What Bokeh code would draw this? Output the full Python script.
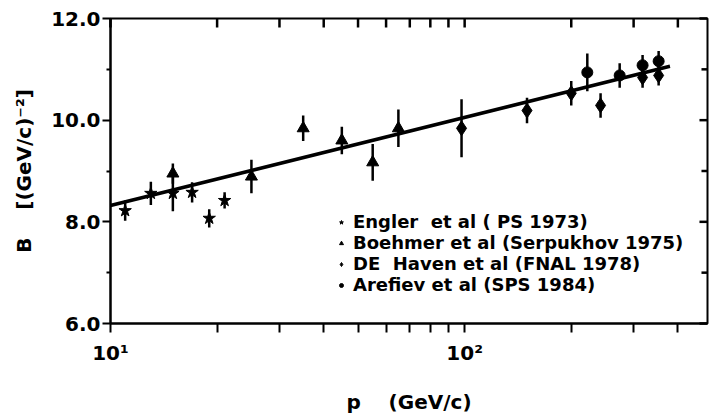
from bokeh.plotting import figure
from bokeh.models import Range1d, FixedTicker, Legend, LegendItem
from bokeh.embed import file_html
from bokeh.resources import INLINE
import numpy as np

FONT = "DejaVu Sans"
NB = "\u00a0"

# Engler et al (PS 1973)
engler_p = [11, 13, 15, 17, 19, 21]
engler_B = [8.22, 8.56, 8.56, 8.58, 8.07, 8.42]
engler_err = [0.20, 0.23, 0.35, 0.20, 0.18, 0.16]

# Boehmer et al (Serpukhov 1975)
boehmer_p = [15, 25, 35, 45, 55, 65]
boehmer_B = [8.95, 8.89, 9.84, 9.60, 9.17, 9.84]
boehmer_err = [0.20, 0.33, 0.25, 0.27, 0.36, 0.37]

# DE Haven et al (FNAL 1978)
dehaven_p = [98, 150, 200, 242, 318, 353]
dehaven_B = [9.84, 10.19, 10.53, 10.29, 10.84, 10.88]
dehaven_err = [0.57, 0.25, 0.24, 0.24, 0.20, 0.20]

# Arefiev et al (SPS 1984)
arefiev_p = [222, 274, 318, 353]
arefiev_B = [10.94, 10.88, 11.08, 11.16]
arefiev_err = [0.37, 0.24, 0.20, 0.20]

# fitted line
fit_p = [10, 380]
fit_B = [8.32, 11.06]

x_ticks = [10, 100]
x_minor = [20, 30, 40, 50, 60, 70, 80, 90, 200, 300, 400]
x_tick_labels = {10: "10\u00b9", 100: "10\u00b2"}
y_ticks = [6, 8, 10, 12]
y_minor = [7, 9, 11]
y_tick_labels = {6: "6.0", 8: "8.0", 10: "10.0", 12: "12.0"}

X0, X1, Y0, Y1 = 10, 485, 6, 12

p = figure(width=709, height=416, x_axis_type="log",
           x_range=Range1d(X0, X1), y_range=Range1d(Y0, Y1),
           output_backend="svg", toolbar_location=None,
           min_border_left=110, min_border_right=2,
           min_border_top=18, min_border_bottom=93)
p.xgrid.visible = False
p.ygrid.visible = False
p.outline_line_color = "black"
p.outline_line_width = 2
p.background_fill_color = "white"
p.border_fill_color = "white"

# bottom axis
xa = p.xaxis[0]
xa.ticker = FixedTicker(ticks=x_ticks, minor_ticks=x_minor)
xa.major_label_overrides = x_tick_labels
xa.axis_line_width = 2
xa.major_tick_in = 0
xa.major_tick_out = 9
xa.minor_tick_in = 0
xa.minor_tick_out = 9
xa.major_tick_line_width = 2
xa.minor_tick_line_width = 2
xa.major_label_standoff = 8
xa.major_label_text_font = FONT
xa.major_label_text_font_size = "20px"
xa.major_label_text_font_style = "bold"
xa.major_label_text_color = "black"
xa.axis_label = "p" + NB * 4 + "(GeV/c)"
xa.axis_label_text_font = FONT
xa.axis_label_text_font_style = "bold"
xa.axis_label_text_font_size = "20px"
xa.axis_label_text_color = "black"
xa.axis_label_standoff = 22

# left axis
ya = p.yaxis[0]
ya.ticker = FixedTicker(ticks=y_ticks, minor_ticks=y_minor)
ya.major_label_overrides = y_tick_labels
ya.axis_line_width = 2
ya.major_tick_in = 0
ya.major_tick_out = 8
ya.minor_tick_in = 0
ya.minor_tick_out = 4
ya.major_tick_line_width = 2
ya.minor_tick_line_width = 2
ya.major_label_standoff = 2
ya.major_label_text_font = FONT
ya.major_label_text_font_size = "20px"
ya.major_label_text_font_style = "bold"
ya.major_label_text_color = "black"
ya.axis_label = "B" + NB * 4 + "[(GeV/c)\u207b\u00b2]"
ya.axis_label_text_font = FONT
ya.axis_label_text_font_style = "bold"
ya.axis_label_text_font_size = "20px"
ya.axis_label_text_color = "black"
ya.axis_label_standoff = 12

# inward ticks on the top and right frame edges
px_per_unit_y = 305 / (Y1 - Y0)
px_per_decade = 595 / np.log10(X1 / X0)
top_ticks = x_ticks + x_minor
top_len = 9 / px_per_unit_y
p.segment(x0=top_ticks, y0=[Y1 - 0.001] * len(top_ticks), x1=top_ticks,
          y1=[Y1 - top_len] * len(top_ticks), line_color="black", line_width=2.5,
          level="overlay")
right_ticks = y_ticks + y_minor
right_len = [8] * len(y_ticks) + [6] * len(y_minor)
p.segment(x0=[X1 / 1.001] * len(right_ticks), y0=right_ticks,
          x1=[X1 / 10 ** (l / px_per_decade) for l in right_len], y1=right_ticks,
          line_color="black", line_width=2.5, level="overlay")

# fit line
p.line(fit_p, fit_B, line_color="black", line_width=3.5)

def errbars(xs, ys, es):
    ys = np.array(ys); es = np.array(es)
    p.segment(x0=xs, y0=ys - es, x1=xs, y1=ys + es, line_color="black", line_width=2.5)

errbars(engler_p, engler_B, engler_err)
errbars(boehmer_p, boehmer_B, boehmer_err)
errbars(dehaven_p, dehaven_B, dehaven_err)
errbars(arefiev_p, arefiev_B, arefiev_err)

r1 = p.scatter(engler_p, engler_B, marker="star", size=13, fill_color="black", line_color="black")
r2 = p.scatter(boehmer_p, boehmer_B, marker="triangle", size=12, fill_color="black", line_color="black")
r3 = p.scatter(dehaven_p, dehaven_B, marker="diamond", size=15, fill_color="black", line_color="black")
r4 = p.scatter(arefiev_p, arefiev_B, marker="circle", size=11, fill_color="black", line_color="black")

legend = Legend(items=[
    LegendItem(label="Engler" + NB * 2 + "et al ( PS 1973)", renderers=[r1]),
    LegendItem(label="Boehmer et al (Serpukhov 1975)", renderers=[r2]),
    LegendItem(label="DE" + NB * 2 + "Haven et al (FNAL 1978)", renderers=[r3]),
    LegendItem(label="Arefiev et al (SPS 1984)", renderers=[r4]),
], location=(226, 28), border_line_alpha=0, background_fill_alpha=0,
    label_text_font=FONT, label_text_font_size="18px", label_text_font_style="bold",
    label_text_color="black",
    label_height=17, glyph_height=14, glyph_width=10, spacing=0, padding=0, margin=0,
    label_standoff=7)
p.add_layout(legend)

open("out.html", "w").write(file_html(p, INLINE))
